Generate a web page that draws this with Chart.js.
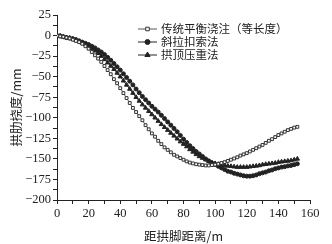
<!DOCTYPE html>
<html>
<head>
<meta charset="utf-8">
<script src="https://cdn.jsdelivr.net/npm/chart.js@4.4.0/dist/chart.umd.min.js"></script>
<style>
  html, body { margin: 0; padding: 0; background: #fff; }
  #wrap { width: 332px; height: 244px; }
</style>
</head>
<body>
<div id="wrap"><canvas id="deflChart"></canvas></div>
<script>
// distance from arch foot (m), one marker every 2 m
var distance = [0, 2, 4, 6, 8, 10, 12, 14, 16, 18, 20, 22, 24, 26, 28, 30, 32, 34, 36, 38,
  40, 42, 44, 46, 48, 50, 52, 54, 56, 58, 60, 62, 64, 66, 68, 70, 72, 74, 76, 78,
  80, 82, 84, 86, 88, 90, 92, 94, 96, 98, 100, 102, 104, 106, 108, 110, 112, 114, 116, 118,
  120, 122, 124, 126, 128, 130, 132, 134, 136, 138, 140, 142, 144, 146, 148, 150, 152];

// 传统平衡浇注（等长度）
var traditional = [0, -1, -1.5, -2.5, -3.5, -5, -6.5, -8, -10, -13, -16, -20, -24, -28, -32, -37, -42, -47, -53, -58,
  -64, -70, -76, -82, -88, -93, -98, -103, -109, -114, -119, -123, -128, -132, -136, -139, -142, -145, -147, -149,
  -151, -153, -154.5, -155.5, -156.5, -157, -157.5, -158, -158, -157.5, -157, -156, -155, -154, -152.5, -151, -149.5, -148, -146, -144.5,
  -143, -141, -139, -137, -135, -133, -130.5, -128, -126, -123.5, -121, -119, -117, -115, -113.5, -112, -111];

// 斜拉扣索法
var cableStay = [0, -0.5, -1.5, -2.5, -3, -4, -5, -6.5, -8, -9.5, -11, -13, -15, -17.5, -20, -23, -26.5, -30, -34, -38,
  -42, -46.5, -51, -55.5, -60, -65, -69.5, -74, -78, -82, -86, -89.5, -93, -97, -101, -105, -109, -113, -117, -121.5,
  -126, -130, -134, -137.5, -141, -144, -147, -150, -152.5, -155, -157, -159, -161, -163, -165, -166, -167.5, -168.5, -169.5, -170.5,
  -171, -171, -170.5, -169.5, -168, -167, -166, -164.5, -163.5, -162, -161, -160, -159.5, -158.5, -158, -157, -156];

// 拱顶压重法
var crownLoad = [0, -0.5, -1.5, -2.5, -3, -4, -5.5, -7, -9, -11, -13, -15.5, -18.5, -21.5, -25, -29, -33, -37, -41, -45.5,
  -50, -55, -60, -65, -70, -75, -79.5, -84, -88, -92, -96, -100, -104, -108, -111.5, -115, -118.5, -122, -125.5, -129,
  -132, -135, -138.5, -141.5, -144.5, -147, -149, -151, -153, -154.5, -155.5, -156.5, -157.5, -158, -158.5, -159, -159.5, -160, -160, -160,
  -160, -159.5, -159, -158.5, -158, -157, -156.5, -156, -155.5, -155, -154, -153.5, -153, -152.5, -152, -151, -150];

var seriesNames = ["传统平衡浇注（等长度）", "斜拉扣索法", "拱顶压重法"];

var serif = "'Times New Roman', 'Liberation Serif', 'DejaVu Serif', serif";
var cjk = "'Noto Sans CJK SC', 'Noto Sans CJK TC', sans-serif";

function pts(ys) {
  return ys.map(function (y, i) { return { x: distance[i], y: y }; });
}

// legend drawn inside the plot, upper right
var innerLegend = {
  id: 'innerLegend',
  afterDraw: function (chart) {
    var c = chart.ctx;
    var x0 = 138, x1 = 157, tx = 161;
    var rows = [29, 42, 55];
    chart.data.datasets.forEach(function (ds, i) {
      var y = rows[i];
      c.save();
      c.strokeStyle = ds.borderColor;
      c.lineWidth = 1;
      c.beginPath();
      c.moveTo(x0, y);
      c.lineTo(x1, y);
      c.stroke();
      c.fillStyle = ds.pointBackgroundColor;
      c.strokeStyle = ds.pointBorderColor;
      Chart.helpers.drawPoint(c, { pointStyle: ds.pointStyle, radius: ds.pointRadius + 0.5, borderWidth: 1 }, (x0 + x1) / 2, y);
      c.fillStyle = '#222';
      c.font = '11.5px ' + cjk;
      c.textBaseline = 'middle';
      c.textAlign = 'left';
      c.fillText(ds.label, tx, y);
      c.restore();
    });
  }
};

var ctx = document.getElementById('deflChart').getContext("2d");

var myChart = new Chart(ctx, {
  type: 'line',
  data: {
    datasets: [{
        label: seriesNames[0],
        data: pts(traditional),
        borderColor: "#555",
        borderWidth: 1,
        pointStyle: 'rect',
        pointRadius: 2,
        pointBorderWidth: 1,
        pointBackgroundColor: "#fff",
        pointBorderColor: "#333",
        backgroundColor: "transparent",
        fill: false,
        tension: 0
      },
      {
        label: seriesNames[1],
        data: pts(cableStay),
        borderColor: "#222",
        borderWidth: 1,
        pointStyle: 'circle',
        pointRadius: 2,
        pointBorderWidth: 1,
        pointBackgroundColor: "#222",
        pointBorderColor: "#222",
        backgroundColor: "transparent",
        fill: false,
        tension: 0
      },
      {
        label: seriesNames[2],
        data: pts(crownLoad),
        borderColor: "#222",
        borderWidth: 1,
        pointStyle: 'triangle',
        pointRadius: 2.5,
        pointBorderWidth: 1,
        pointBackgroundColor: "#222",
        pointBorderColor: "#222",
        backgroundColor: "transparent",
        fill: false,
        tension: 0
      }
    ]
  },
  options: {
    responsive: true,
    maintainAspectRatio: false,
    animation: false,
    layout: { padding: { top: 15, right: 22, bottom: 0, left: 0 } },
    plugins: {
      legend: { display: false },
      tooltip: { enabled: false }
    },
    scales: {
      x: {
        type: 'linear',
        min: 0,
        max: 160,
        border: { display: true, color: '#222', width: 1 },
        grid: { drawOnChartArea: false, drawTicks: true, tickLength: 4, tickColor: '#222' },
        ticks: {
          stepSize: 10,
          autoSkip: false,
          maxRotation: 0,
          padding: 2,
          color: '#222',
          font: { family: serif, size: 12.5 },
          callback: function (v) { return v % 20 === 0 ? String(v) : ''; }
        },
        title: {
          display: true,
          text: '距拱脚距离/m',
          color: '#222',
          font: { family: cjk, size: 12.5 },
          padding: { top: 4, bottom: 0 }
        },
        afterFit: function (scale) { scale.height = 44; }
      },
      y: {
        type: 'linear',
        min: -200,
        max: 25,
        border: { display: true, color: '#222', width: 1 },
        grid: { drawOnChartArea: false, drawTicks: true, tickLength: 4, tickColor: '#222' },
        ticks: {
          stepSize: 12.5,
          autoSkip: false,
          padding: 2,
          color: '#222',
          font: { family: serif, size: 12.5 },
          callback: function (v) {
            if (v % 25 !== 0) return '';
            return String(v).replace('-', '\u2212');
          }
        },
        title: {
          display: true,
          text: '拱肋挠度/mm',
          color: '#222',
          font: { family: cjk, size: 12.5 },
          padding: { top: 9, bottom: 0 }
        },
        afterFit: function (scale) { scale.width = 57; }
      }
    }
  },
  plugins: [innerLegend]
});
</script>
</body>
</html>
